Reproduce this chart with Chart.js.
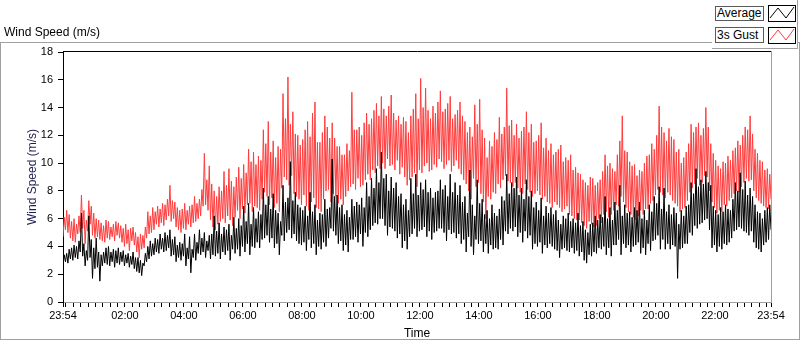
<!DOCTYPE html>
<html><head><meta charset="utf-8">
<script src="https://cdn.jsdelivr.net/npm/chart.js@4.4.1/dist/chart.umd.min.js"></script>
<style>
html,body{margin:0;padding:0;background:#fff;width:800px;height:342px;overflow:hidden;font-family:"Liberation Sans",Arial,sans-serif;}
#wrap{position:relative;width:800px;height:342px;}
#c{position:absolute;left:0;top:0;}
#frame{position:absolute;left:0;top:42px;width:800px;height:298px;box-sizing:border-box;border:1px solid #a0a0a0;pointer-events:none;}
#title{position:absolute;left:4px;top:24px;font-size:12px;line-height:16px;color:#000;white-space:nowrap;}
#legend{position:absolute;left:712px;top:0;width:86px;height:49px;box-sizing:border-box;background:#fff;border-right:1px solid #a0a0a0;border-bottom:1px solid #a0a0a0;}
.lbl{position:absolute;left:3px;width:49px;box-sizing:border-box;border:1px solid #5a5a5a;background:#fff;font-size:12px;padding-left:1px;color:#000;white-space:nowrap;}
.glyph{position:absolute;left:56px;width:28px;box-sizing:border-box;border:1px solid #000;background:#fff;}
.glyph svg{display:block;}
</style>
</head>
<body>
<div id="wrap">
<canvas id="c" width="800" height="342"></canvas>
<div id="frame"></div>
<div id="title">Wind Speed (m/s)</div>
<div id="legend">
  <div class="lbl" style="top:6px;height:15px;line-height:13px;">Average</div>
  <div class="glyph" style="top:5px;height:17px;"><svg width="26" height="15" viewBox="0 0 26 15"><polyline points="1,12 9,2 17,12 25,1" fill="none" stroke="#000" stroke-width="1"/></svg></div>
  <div class="lbl" style="top:27px;height:16px;line-height:14px;">3s Gust</div>
  <div class="glyph" style="top:27px;height:17px;"><svg width="26" height="15" viewBox="0 0 26 15"><polyline points="1,12 9,2 17,12 25,1" fill="none" stroke="#ff3c3c" stroke-width="1"/></svg></div>
</div>
</div>
<script>
// ---- data (one sample every 2.5 minutes, starting 23:54) ----
const sampleStepMin = 2.5;
const seriesNames = ['Average', '3s Gust'];

const average = [
2.6,3.4,2.9,3.5,2.8,3.8,3.1,3.9,3.0,4.1,3.2,4.0,3.1,4.4,3.6,6.4,3.3,4.2,2.6,3.7,
3.0,6.2,3.2,4.5,1.7,3.9,2.4,4.6,2.5,3.6,1.5,3.4,2.6,3.6,2.8,3.9,2.7,4.0,2.6,3.6,
2.9,3.8,2.5,3.7,2.8,3.9,2.7,3.6,2.9,3.7,2.6,3.4,2.8,3.5,2.5,3.3,2.7,3.6,2.4,3.2,
2.2,3.2,2.1,3.0,1.9,2.8,2.6,3.5,2.9,4.0,3.1,4.4,3.3,4.2,3.4,4.6,3.6,4.5,3.5,4.9,
3.8,4.6,3.6,5.0,3.7,4.8,3.9,5.2,3.3,4.5,3.4,4.7,2.9,4.1,3.2,4.3,3.0,4.2,3.3,4.9,
2.6,3.9,3.1,4.7,2.1,3.8,3.2,4.9,3.0,4.3,3.5,5.2,3.4,4.6,3.6,5.0,3.2,4.4,3.7,4.8,
3.1,4.9,3.4,6.2,3.3,5.1,3.5,5.7,3.1,4.9,3.6,5.4,3.4,5.2,3.7,5.6,3.0,4.8,3.8,6.1,
3.5,5.3,3.8,6.0,3.3,5.5,4.0,6.9,3.6,5.8,4.2,7.1,3.4,5.6,4.0,6.8,3.9,6.0,4.3,6.5,
3.9,6.3,4.5,8.2,4.6,7.0,4.8,7.6,4.3,6.7,4.6,7.8,3.9,6.6,4.2,6.4,3.4,5.8,4.8,8.4,
4.4,7.2,5.0,7.5,5.2,10.1,4.6,7.3,4.9,7.9,4.4,7.0,4.2,6.8,4.1,6.6,4.3,6.9,3.7,6.2,
4.5,7.9,3.9,6.5,4.2,7.0,3.4,5.9,4.0,6.4,3.8,6.3,4.3,7.4,4.0,6.7,4.6,6.8,5.3,10.3,
5.1,7.6,4.8,7.7,4.2,6.8,4.4,7.0,3.7,6.3,4.1,6.6,3.6,6.1,4.5,7.4,4.5,6.9,4.7,7.2,
4.3,7.0,4.9,7.5,4.0,6.8,5.0,8.6,4.7,7.6,5.2,8.9,5.5,8.2,5.7,9.6,5.6,8.6,6.0,10.8,
6.0,8.9,5.5,9.2,4.8,8.0,5.4,9.0,5.3,8.2,5.1,8.6,4.6,7.6,4.9,7.8,3.9,7.0,4.4,7.4,
3.8,6.6,4.7,8.9,4.9,7.8,5.3,9.2,4.7,7.7,5.1,8.6,5.2,8.1,5.4,8.8,4.7,7.9,5.1,8.2,
4.5,7.5,5.0,7.9,5.1,8.0,5.3,8.8,5.3,8.1,5.0,8.4,4.4,7.6,5.2,9.2,4.9,7.9,5.0,8.6,
4.6,7.7,4.9,8.4,4.2,7.2,4.5,7.6,3.6,6.4,4.7,9.5,4.0,7.0,3.4,6.2,4.5,8.8,4.2,7.1,
4.4,7.4,3.6,6.3,4.2,6.6,3.5,6.0,4.1,7.0,3.8,6.4,3.9,6.2,3.8,6.7,4.5,7.6,4.1,7.3,
5.1,9.2,4.9,7.8,5.3,8.6,5.1,8.2,5.4,9.0,4.7,7.7,5.0,8.2,4.3,7.4,5.1,8.8,4.6,7.6,
4.8,8.0,3.8,6.8,4.2,7.2,4.0,6.6,4.3,7.5,3.5,6.2,4.1,6.9,3.9,6.4,4.2,6.8,4.0,6.3,
3.8,6.6,3.7,5.9,3.2,5.6,3.8,6.2,3.9,6.0,3.7,6.4,3.6,5.8,3.9,6.0,3.5,5.7,3.7,6.4,
3.3,5.5,3.6,5.8,3.0,5.2,2.8,5.0,3.4,5.6,3.3,5.7,3.6,6.2,3.5,5.9,3.9,6.3,3.8,6.1,
4.0,7.6,3.4,6.0,3.9,6.8,3.3,5.9,4.1,7.2,4.1,6.6,4.5,8.4,3.4,6.2,4.2,7.0,3.9,6.4,
4.1,6.5,3.6,6.1,4.0,6.8,4.1,6.6,4.3,7.2,3.5,6.0,3.9,6.6,3.4,5.9,4.2,7.0,3.7,6.5,
4.4,7.6,4.5,7.1,4.8,8.3,3.8,6.7,4.5,8.2,3.8,6.5,4.2,7.0,3.8,6.3,4.1,6.8,4.0,6.4,
1.7,5.6,3.8,6.6,3.9,6.2,4.2,6.9,4.2,7.0,5.0,8.6,4.8,7.8,5.5,9.6,5.3,8.3,5.6,8.8,
5.7,8.5,5.9,9.4,6.0,8.6,5.2,8.4,3.9,6.9,4.1,6.6,3.6,6.3,4.0,6.8,3.8,6.5,4.2,7.0,
4.1,6.7,4.3,6.6,4.6,7.4,5.1,8.6,5.2,8.0,5.4,9.3,5.3,8.1,5.1,8.7,5.0,7.7,4.8,8.2,
5.1,7.6,4.3,7.0,3.9,6.5,3.8,6.4,3.6,6.0,4.1,6.6,4.3,6.8,4.5,7.0,5.2
];

const gust = [
4.7,6.1,5.2,6.6,5.0,6.3,4.6,5.8,4.4,6.0,4.3,5.6,4.9,6.2,5.0,7.7,5.3,6.6,4.2,5.9,
5.1,7.3,5.6,6.9,4.8,6.4,4.6,6.0,4.7,5.9,4.5,5.7,4.4,5.5,4.3,5.9,4.6,5.8,4.5,5.4,
4.7,5.6,4.4,5.8,4.8,5.7,4.6,5.5,4.3,5.3,4.0,5.6,4.2,5.2,3.7,5.3,4.4,5.4,4.1,5.0,
3.6,4.7,3.2,4.9,3.8,4.8,3.9,5.4,4.6,6.5,4.9,6.2,5.0,6.8,5.2,6.5,5.6,6.9,5.4,6.7,
5.7,7.1,5.5,7.0,5.9,7.4,6.2,8.4,5.8,7.3,6.0,7.2,5.4,6.8,5.2,6.6,5.0,6.7,5.3,7.1,
5.2,6.6,5.6,6.9,5.4,7.0,5.7,7.6,5.8,7.1,6.0,7.4,6.2,8.1,6.9,10.7,7.0,8.8,6.6,9.8,
5.9,8.5,5.4,8.0,5.2,7.6,5.6,8.3,5.8,8.0,6.0,9.4,5.7,8.4,6.2,9.6,5.9,8.7,5.5,8.3,
6.1,9.0,6.6,9.7,6.0,8.9,6.7,9.9,6.4,9.3,7.0,11.0,7.1,10.1,6.5,10.8,6.9,9.9,6.8,10.5,
6.6,10.2,7.4,12.4,7.9,11.4,7.6,13.0,7.0,10.8,7.5,11.6,6.8,10.4,7.1,11.2,6.5,11.0,8.2,15.0,
9.0,13.2,8.8,16.2,8.4,12.8,9.1,13.7,7.8,12.1,7.6,12.0,7.4,11.3,7.0,11.7,7.7,12.4,6.9,13.0,
6.6,11.9,7.2,13.6,7.5,14.4,6.8,11.5,6.7,11.5,6.5,12.2,7.4,13.4,8.0,12.6,8.1,11.8,7.2,12.9,
7.8,11.8,7.6,11.2,7.1,11.2,7.4,10.6,7.0,10.6,7.6,11.4,8.0,10.9,8.3,15.1,8.5,12.4,8.1,12.4,
8.9,12.6,8.3,12.0,8.4,12.9,8.8,13.6,9.2,12.8,8.8,13.2,9.5,13.8,9.3,14.3,9.8,13.4,9.6,14.8,
10.0,13.9,9.6,13.4,10.3,14.1,9.8,14.9,9.9,13.6,9.5,13.1,10.2,13.4,9.2,12.8,9.7,13.3,9.0,13.0,
8.4,12.2,8.8,13.4,9.0,13.9,9.3,15.0,8.3,13.2,9.5,16.1,9.3,14.0,9.8,15.4,10.0,13.8,9.4,13.2,
9.5,14.1,9.9,13.6,9.7,14.4,10.3,15.2,10.1,13.7,9.6,13.9,9.9,14.3,10.2,14.8,9.4,13.2,9.8,13.5,
10.2,13.8,9.6,14.4,9.2,13.4,8.8,13.0,8.5,12.2,8.0,12.6,7.4,11.9,8.9,14.2,8.3,12.8,8.6,14.6,
7.8,12.4,7.2,11.8,6.0,10.4,7.6,11.6,7.4,11.2,7.9,12.2,7.8,11.7,8.5,13.3,8.2,12.1,8.8,12.6,
9.1,15.4,8.7,12.7,8.6,13.1,8.3,12.0,8.6,12.8,8.2,11.8,7.9,12.3,7.8,12.6,8.5,13.7,8.1,12.2,
7.9,12.8,7.6,11.5,7.8,11.6,8.0,12.0,7.7,12.9,7.4,11.1,7.6,11.8,7.2,10.9,7.1,11.4,6.8,10.6,
7.2,10.8,7.0,11.0,6.8,11.3,6.5,10.1,6.7,10.4,6.9,10.2,6.3,10.6,6.2,9.5,6.0,9.7,5.9,9.3,
5.9,9.2,5.7,8.8,5.5,8.6,5.3,8.4,5.8,9.0,5.6,8.9,5.4,8.4,5.5,8.6,6.0,8.8,5.7,9.4,
6.3,10.6,6.5,9.8,6.1,10.0,6.3,9.6,6.6,9.4,7.0,10.6,6.9,11.6,7.6,13.4,7.2,10.9,6.8,10.8,
6.5,10.1,6.3,9.8,6.1,9.9,5.9,9.1,6.2,9.5,6.6,9.4,6.3,10.0,6.7,10.5,6.7,10.6,7.1,11.4,
7.3,11.0,7.7,12.0,8.1,14.1,7.9,12.6,7.7,12.2,7.5,11.6,7.9,12.5,7.7,11.9,7.3,11.7,7.1,10.8,
6.9,11.0,6.5,10.0,6.7,10.4,6.8,10.8,7.3,11.4,7.9,12.8,8.2,12.2,8.5,12.6,8.9,12.9,8.4,12.0,
8.6,12.5,9.1,14.0,9.0,12.6,8.0,11.4,7.2,10.7,6.8,10.2,6.4,9.8,6.6,9.6,6.5,10.1,7.0,10.0,
6.9,10.5,7.3,10.2,7.5,10.9,7.8,11.1,8.0,11.6,7.9,11.3,8.3,12.0,8.6,12.6,8.9,12.4,8.7,13.4,
8.8,12.1,8.0,11.0,7.5,10.7,7.3,10.2,7.1,10.1,6.9,9.5,6.8,9.6,6.7,9.2,7.4
];

// x-axis: minutes after 23:54
const xTickMinutes = [0, 126, 246, 366, 486, 606, 726, 846, 966, 1086, 1206, 1326, 1440];
const xTickLabels  = ['23:54','02:00','04:00','06:00','08:00','10:00','12:00','14:00','16:00','18:00','20:00','22:00','23:54'];
const minorTickStartMin = 6;   // 00:00
const minorTickStepMin = 15;
const yTickValues = [0,2,4,6,8,10,12,14,16,18];

const toPoints = arr => arr.map((v, i) => ({x: i * sampleStepMin, y: v}));

const FONT = '"Liberation Sans", Arial, sans-serif';

const plotBorders = {
  id: 'plotBorders',
  afterDraw(chart) {
    const {ctx, chartArea: {left, right, top, bottom}} = chart;
    ctx.save();
    ctx.lineWidth = 1;
    ctx.strokeStyle = '#000';
    ctx.beginPath(); ctx.moveTo(left, top - 0.5); ctx.lineTo(right + 1, top - 0.5); ctx.stroke();
    ctx.strokeStyle = '#a0a0a0';
    ctx.beginPath(); ctx.moveTo(right + 0.5, top - 1); ctx.lineTo(right + 0.5, bottom + 1); ctx.stroke();
    ctx.restore();
  }
};

new Chart(document.getElementById('c'), {
  type: 'line',
  data: {
    datasets: [
      {label: seriesNames[0], data: toPoints(average), borderColor: '#000000', borderWidth: 1, pointRadius: 0, tension: 0, fill: false},
      {label: seriesNames[1], data: toPoints(gust), borderColor: '#ff3c3c', borderWidth: 1, pointRadius: 0, tension: 0, fill: false}
    ]
  },
  options: {
    responsive: false,
    devicePixelRatio: 1,
    animation: false,
    events: [],
    layout: {padding: {left: 0, top: 52, right: 29, bottom: 0}},
    plugins: {legend: {display: false}, tooltip: {enabled: false}, title: {display: false}},
    scales: {
      x: {
        type: 'linear',
        min: 0, max: 1440,
        afterFit(scale) { scale.height = 40; },
        afterBuildTicks(scale) {
          const t = [{value: 0}];
          for (let m = minorTickStartMin; m < 1440; m += minorTickStepMin) t.push({value: m});
          t.push({value: 1440});
          scale.ticks = t;
        },
        ticks: {
          autoSkip: false, maxRotation: 0, minRotation: 0, padding: 2,
          color: '#000', font: {family: FONT, size: 11},
          callback(value) {
            const k = xTickMinutes.indexOf(value);
            return k >= 0 ? xTickLabels[k] : '';
          }
        },
        grid: {drawOnChartArea: false, drawTicks: true, tickLength: 5, tickColor: '#000'},
        border: {display: true, color: '#a0a0a0', width: 1},
        title: {display: true, text: 'Time', color: '#000', font: {family: FONT, size: 12}, padding: {top: 0, bottom: 1}}
      },
      y: {
        min: 0, max: 18,
        afterFit(scale) { scale.width = 63; },
        afterBuildTicks(scale) { scale.ticks = yTickValues.map(v => ({value: v})); },
        ticks: {padding: 5, color: '#000', font: {family: FONT, size: 11}},
        grid: {drawOnChartArea: false, drawTicks: true, tickLength: 5, tickColor: '#000'},
        border: {display: true, color: '#000', width: 1},
        title: {display: true, text: 'Wind Speed (m/s)', color: '#1f1f4f', font: {family: FONT, size: 12}, padding: {top: 25, bottom: 0}}
      }
    }
  },
  plugins: [plotBorders]
});
</script>
</body></html>
